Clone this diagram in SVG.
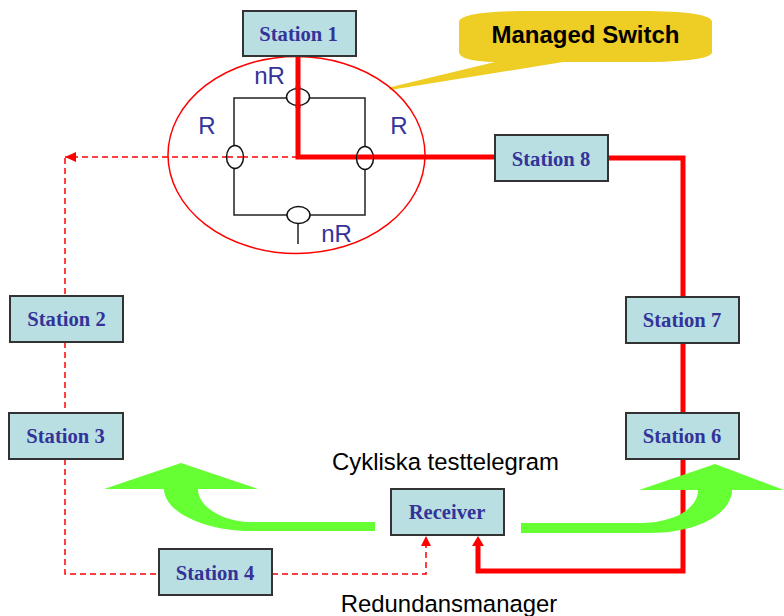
<svg xmlns="http://www.w3.org/2000/svg" width="784" height="616" viewBox="0 0 784 616">
<style>
.st rect{fill:#b9dfe2;stroke:#333;stroke-width:2}
.st text{font-family:"Liberation Serif",serif;font-weight:bold;font-size:20.600px;fill:#333399;text-anchor:middle}
.lab{font-family:"Liberation Sans",sans-serif;font-size:24px;fill:#333399;text-anchor:middle}
.cap{font-family:"Liberation Sans",sans-serif;font-size:23.900px;fill:#000;text-anchor:middle}
.thick{fill:none;stroke:#f00;stroke-width:5}
.dash{fill:none;stroke:#f00;stroke-width:1.500;stroke-dasharray:6 4}
.sw{fill:none;stroke:#222;stroke-width:1.500}
.oval{fill:#fff;stroke:#111;stroke-width:1.500}
.green{fill:#66ff33}
</style>
<defs>
<marker id="aD" markerUnits="userSpaceOnUse" markerWidth="12" markerHeight="12" refX="11" refY="5" orient="auto"><path d="M0 0L11 5L0 10Z" fill="#f00"/></marker>
</defs>
<g id="callout">
<path d="M459 22Q459 12 520 11H650Q712 12 712 22V52Q712 61 650 62H563L390 90L389 87.500L495 62Q459 61 459 52Z" fill="#eecd25"/>
<text x="585.500" y="43" font-family="Liberation Sans, sans-serif" font-weight="bold" font-size="24" text-anchor="middle" fill="#000">Managed Switch</text>
</g>
<g id="switch">
<rect class="sw" x="234" y="98" width="131" height="117"/>
<path class="sw" d="M298 222V244"/>
<ellipse cx="296.500" cy="155" rx="128.500" ry="98.500" fill="none" stroke="#f00" stroke-width="1.500"/>
</g>
<g id="connectors">
<path class="dash" d="M298 157H65" marker-end="url(#aD)"/>
<path class="dash" d="M65 158V296M65 342V413M65 459V574H159M272 574H426V540"/>
<path d="M426 536L421 546H431Z" fill="#f00"/>
<path class="thick" d="M298 57V157H495M608 158H683V571H478V544"/>
<path d="M478 536L472 546H484Z" fill="#f00"/>
</g>
<g id="ovals">
<ellipse class="oval" cx="298" cy="97" rx="11.500" ry="8.500"/>
<ellipse class="oval" cx="235" cy="157" rx="8.500" ry="11.500"/>
<ellipse class="oval" cx="365" cy="158" rx="8.500" ry="11.500"/>
<ellipse class="oval" cx="298.500" cy="215" rx="11.500" ry="8.500"/>
</g>
<path class="thick" d="M298 86V108"/>
<path class="thick" d="M357 157H373"/>
<path class="dash" d="M227 157H243"/>
<g id="labels">
<text class="lab" x="269.500" y="83.500">nR</text>
<text class="lab" x="207" y="133.500">R</text>
<text class="lab" x="399" y="133.500">R</text>
<text class="lab" x="336.500" y="241.500">nR</text>
<text class="cap" x="445.500" y="469.500">Cykliska testtelegram</text>
<text class="cap" x="449" y="612">Redundansmanager</text>
</g>
<g id="station1" class="st"><rect x="243" y="11" width="113" height="45"/><text x="298.500" y="41">Station 1</text></g>
<g id="station2" class="st"><rect x="10" y="296" width="113" height="46"/><text x="66.500" y="326">Station 2</text></g>
<g id="station3" class="st"><rect x="9" y="413" width="114" height="46"/><text x="65.500" y="443">Station 3</text></g>
<g id="station4" class="st"><rect x="159" y="549" width="113" height="46"/><text x="215" y="580">Station 4</text></g>
<g id="station6" class="st"><rect x="626" y="413" width="113" height="46"/><text x="682" y="443">Station 6</text></g>
<g id="station7" class="st"><rect x="626" y="297" width="113" height="46"/><text x="682" y="327">Station 7</text></g>
<g id="station8" class="st"><rect x="495" y="135" width="113" height="46"/><text x="551" y="166">Station 8</text></g>
<g id="receiver" class="st"><rect x="391" y="489" width="113" height="46"/><text x="447" y="519">Receiver</text></g>
<g id="arrowLeft"><path class="green" d="M375 522V531H250C205 531 164 512 164 489H104L181 463L258 489H198C198 508 225 522 250 522Z"/></g>
<g id="arrowRight"><path class="green" d="M521 523V533H650C700 533 732 512 732 490H784L715 464L639 490H698C698 508 675 523 640 523Z"/></g>
</svg>
